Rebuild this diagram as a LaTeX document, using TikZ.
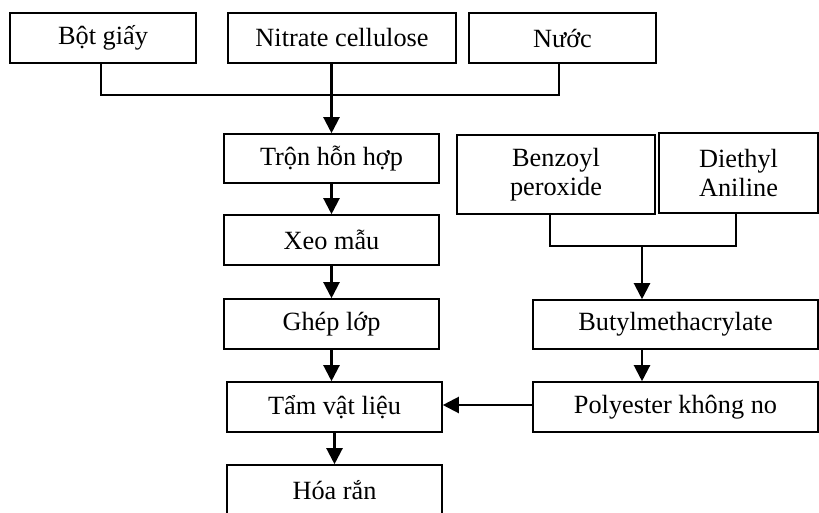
\documentclass[tikz,border=0pt]{standalone}
\usepackage{fontspec}
\setmainfont{Liberation Serif}
\usetikzlibrary{arrows.meta}
\begin{document}
\begin{tikzpicture}[x=1pt,y=-1pt,
  box/.style={draw, line width=1.6pt, inner sep=0pt, align=center,
    font=\fontsize{26.3}{29.5}\selectfont},
  conn/.style={line width=2.2pt},
  arr/.style={conn, -{Triangle[width=16pt,length=16pt]}}]
\useasboundingbox (0,0) rectangle (819,512);
\node[box, minimum width=186pt, minimum height=50pt] (bot) at (103,38) {Bột giấy};
\node[box, minimum width=228pt, minimum height=50pt] (nit) at (342,38) {Nitrate cellulose};
\node[box, minimum width=187pt, minimum height=50pt] (nuoc) at (562.5,38) {Nước};
\node[box, minimum width=215pt, minimum height=49pt] (tron) at (331.5,158.5) {Trộn hỗn hợp};
\node[box, minimum width=215pt, minimum height=50pt] (xeo) at (331.5,240) {Xeo mẫu};
\node[box, minimum width=215pt, minimum height=50pt] (ghep) at (331.5,324) {Ghép lớp};
\node[box, minimum width=215pt, minimum height=50pt] (tam) at (334.5,407) {Tẩm vật liệu};
\node[box, minimum width=215pt, minimum height=50pt] (hoa) at (334.5,490) {Hóa rắn};
\node[box, minimum width=198pt, minimum height=79pt] (benz) at (556,174.5) {Benzoyl\\peroxide};
\node[box, minimum width=159pt, minimum height=80pt] (diet) at (738.5,173) {Diethyl\\Aniline};
\node[box, minimum width=285pt, minimum height=49pt] (buty) at (675.5,324.5) {Butylmethacrylate};
\node[box, minimum width=285pt, minimum height=50pt] (poly) at (675.5,407) {Polyester không no};
\coordinate (j) at (331,95);
\coordinate (k) at (642,246);
\draw[conn] ([xshift=-2pt]bot.south) |- (j) -| ([xshift=-3.5pt]nuoc.south);
\draw[arr] (tron.north |- nit.south) -- (tron.north);
\draw[arr] (tron) -- (xeo);
\draw[arr] (xeo) -- (ghep);
\draw[arr] (ghep.south) -- (tam.north -| ghep.south);
\draw[arr] (tam) -- (hoa);
\draw[conn] ([xshift=-6pt]benz.south) |- (k) -| ([xshift=-2.5pt]diet.south);
\draw[arr] (k) -- (k |- buty.north);
\draw[arr] (k |- buty.south) -- (k |- poly.north);
\draw[arr] ([yshift=2pt]poly.west) -- ([yshift=2pt]tam.east);
\end{tikzpicture}
\end{document}
